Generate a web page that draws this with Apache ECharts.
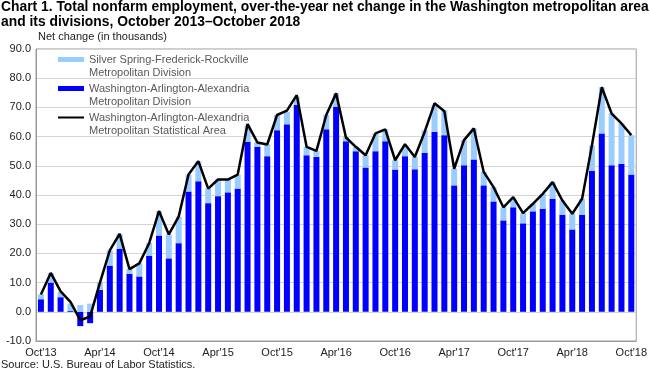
<!DOCTYPE html>
<html>
<head>
<meta charset="utf-8">
<script src="https://cdn.jsdelivr.net/npm/echarts@6/dist/echarts.min.js"></script>
<style>
html,body{margin:0;padding:0;background:#fff;}
#c{width:650px;height:373px;}
</style>
</head>
<body>
<div id="c"></div>
<script>
var months = ["Oct'13","Nov'13","Dec'13","Jan'14","Feb'14","Mar'14","Apr'14","May'14","Jun'14","Jul'14","Aug'14","Sep'14",
"Oct'14","Nov'14","Dec'14","Jan'15","Feb'15","Mar'15","Apr'15","May'15","Jun'15","Jul'15","Aug'15","Sep'15",
"Oct'15","Nov'15","Dec'15","Jan'16","Feb'16","Mar'16","Apr'16","May'16","Jun'16","Jul'16","Aug'16","Sep'16",
"Oct'16","Nov'16","Dec'16","Jan'17","Feb'17","Mar'17","Apr'17","May'17","Jun'17","Jul'17","Aug'17","Sep'17",
"Oct'17","Nov'17","Dec'17","Jan'18","Feb'18","Mar'18","Apr'18","May'18","Jun'18","Jul'18","Aug'18","Sep'18","Oct'18"];

var washingtonDivision = [4.3,10.0,5.0,0.3,-4.9,-3.9,7.5,15.8,21.5,13.0,12.1,19.2,
26.1,18.3,23.5,41.2,44.7,37.2,39.6,40.9,42.2,58.2,56.5,53.3,
62.2,64.2,70.8,53.6,53.0,62.5,70.2,58.4,55.0,49.4,55.0,58.4,
48.7,53.3,48.8,54.4,61.6,60.5,43.3,50.2,52.2,43.3,37.8,31.3,
35.8,30.3,34.4,35.3,38.7,33.2,28.2,33.2,48.2,61.1,50.2,50.7,47.0];

var silverSpringDivision = [1.7,3.3,1.8,2.5,2.3,2.8,2.8,5.2,5.2,1.7,4.5,4.4,
8.4,8.2,9.1,5.8,6.8,5.0,5.7,4.5,4.8,5.7,1.7,4.0,
5.2,4.3,2.8,2.9,2.1,4.9,4.6,1.5,1.5,4.2,6.1,4.1,
3.2,3.2,4.2,7.8,9.2,8.5,5.7,8.6,10.6,4.6,4.9,4.5,
2.9,3.5,2.6,5.1,5.7,4.9,5.4,5.5,8.8,15.8,17.7,13.8,13.5];

var metroArea = [5.9,13.3,7.0,3.4,-2.9,-1.6,10.0,21.0,26.7,14.6,16.6,23.5,
34.5,26.5,32.6,47.0,51.6,42.2,45.3,45.3,47.0,64.3,58.0,57.3,
67.4,68.9,74.2,56.5,55.1,67.4,74.8,59.7,56.5,53.6,61.1,62.5,
51.9,57.4,53.0,61.6,71.4,68.7,49.0,58.8,62.8,47.9,42.7,35.8,
39.3,33.8,37.0,40.4,44.4,38.1,33.6,38.7,57.0,76.9,67.9,64.5,60.5];

var seriesNames = ["Silver Spring-Frederick-Rockville", "Washington-Arlington-Alexandria", "Washington-Arlington-Alexandria MSA"];
var legendLabels = {};
legendLabels[seriesNames[0]] = " \nSilver Spring-Frederick-Rockville\nMetropolitan Division";
legendLabels[seriesNames[1]] = " \nWashington-Arlington-Alexandria\nMetropolitan Division";
legendLabels[seriesNames[2]] = " \nWashington-Arlington-Alexandria\nMetropolitan Statistical Area";

var FONT = "'Liberation Sans', Arial, sans-serif";
var chart = echarts.init(document.getElementById('c'), null, {renderer: 'canvas'});
chart.setOption({
  animation: false,
  backgroundColor: '#fff',
  textStyle: {fontFamily: FONT},
  title: [{
    text: 'Chart 1. Total nonfarm employment, over-the-year net change in the Washington metropolitan area\nand its divisions, October 2013\u2013October 2018',
    left: 1, top: 0, padding: 0,
    textStyle: {fontFamily: FONT, fontSize: 13.85, fontWeight: 'bold', color: '#000', lineHeight: 15}
  }, {
    text: 'Net change (in thousands)',
    left: 38, top: 31, padding: 0,
    textStyle: {fontFamily: FONT, fontSize: 11, fontWeight: 'normal', color: '#222'}
  }, {
    text: 'Source: U.S. Bureau of Labor Statistics.',
    left: 1, top: 359, padding: 0,
    textStyle: {fontFamily: FONT, fontSize: 11, fontWeight: 'normal', color: '#222'}
  }],
  legend: {
    orient: 'vertical',
    left: 58, top: 40, padding: 0,
    itemWidth: 26, itemHeight: 5, itemGap: -10,
    data: [
      {name: seriesNames[0], icon: 'rect'},
      {name: seriesNames[1], icon: 'rect'},
      {name: seriesNames[2], icon: 'path://M0,0 L26,0 L26,0.01 Z M0,1.4 L26,1.4 L26,3.6 L0,3.6 Z M0,5 L26,5 L26,4.99 Z', itemStyle: {color: '#000', borderWidth: 0}}
    ],
    formatter: function (n) { return legendLabels[n]; },
    textStyle: {fontFamily: FONT, fontSize: 11, color: '#595959', lineHeight: 13},
    itemStyle: {borderWidth: 0}
  },
  grid: {left: 36, right: 11, top: 49, bottom: 32, show: true, borderColor: '#9a9a9a', borderWidth: 1, backgroundColor: 'transparent'},
  xAxis: {
    type: 'category',
    data: months,
    axisLine: {onZero: false, lineStyle: {color: '#9a9a9a'}},
    axisTick: {show: false},
    axisLabel: {interval: 5, fontFamily: FONT, fontSize: 11, color: '#222', margin: 6}
  },
  yAxis: {
    type: 'value',
    min: -10, max: 90, interval: 10,
    axisLine: {show: true, lineStyle: {color: '#9a9a9a'}},
    axisTick: {show: false},
    splitLine: {lineStyle: {color: '#d4d4d4'}},
    axisLabel: {fontFamily: FONT, fontSize: 11, color: '#222', margin: 5, formatter: function (v) { return v.toFixed(1); }}
  },
  series: [{
    name: seriesNames[1], type: 'bar', stack: 'div', data: washingtonDivision,
    barWidth: 6, itemStyle: {color: '#0000ff'}
  }, {
    name: seriesNames[0], type: 'bar', stack: 'div', data: silverSpringDivision,
    barWidth: 6, itemStyle: {color: '#99ccff'}
  }, {
    name: seriesNames[2], type: 'line', data: metroArea,
    symbol: 'none', z: 5,
    lineStyle: {color: '#000', width: 2.5},
    itemStyle: {color: '#000'}
  }]
});
</script>
</body>
</html>
